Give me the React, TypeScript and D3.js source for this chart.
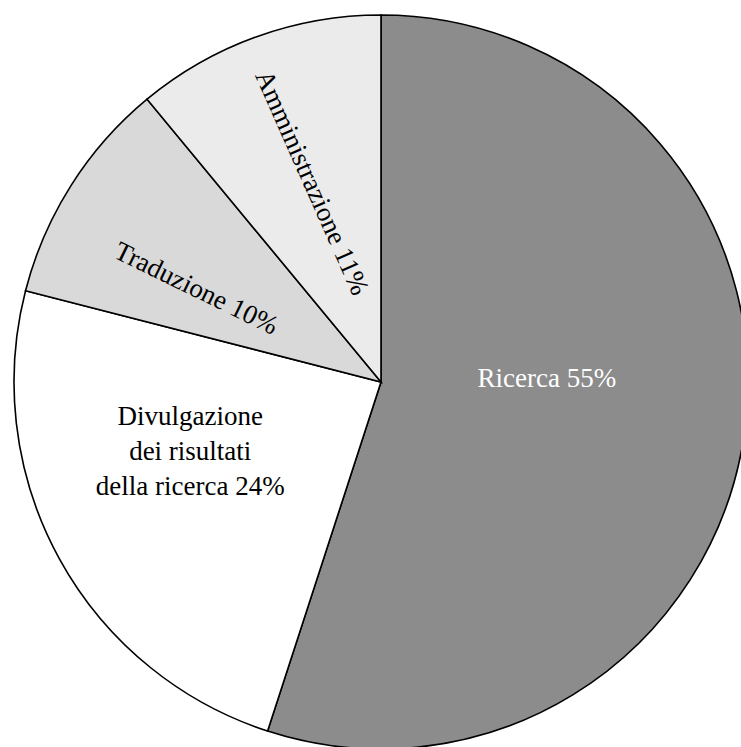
import React from "react";
import * as d3 from "d3";

const categories = ["Ricerca", "Divulgazione dei risultati della ricerca", "Traduzione", "Amministrazione"];
const values = [55, 24, 10, 11];
const labelLines = [
  ["Ricerca 55%"],
  ["Divulgazione", "dei risultati", "della ricerca 24%"],
  ["Traduzione 10%"],
  ["Amministrazione 11%"],
];
const colors = ["#8c8c8c", "#ffffff", "#d9d9d9", "#ebebeb"];
const textColors = ["#ffffff", "#000000", "#000000", "#000000"];

// label layout: polar angle (deg clockwise from top), radius, rotation
const labelLayout = [
  { angle: 88.6, radius: 166, rotate: 0 },
  { angle: 250, radius: 203, rotate: 0 },
  { angle: 297, radius: 207, rotate: 26 },
  { angle: 341, radius: 211, rotate: 66 },
];

export default function App() {
  const width = 741;
  const height = 747;
  const cx = 381;
  const cy = 382;
  const r = 367;
  const pie = d3.pie<number>().sort(null).value((d) => d)(values);
  const arc = d3.arc<d3.PieArcDatum<number>>().innerRadius(0).outerRadius(r);
  const fontSize = 27;
  const lineH = 35;
  return (
    <svg
      width={width}
      height={height}
      style={{ position: "absolute", left: 0, top: 0 }}
    >
      <rect width={width} height={height} fill="#fff" />
      <g transform={`translate(${cx},${cy})`}>
        {pie.map((p, i) => (
          <path key={categories[i]} d={arc(p) || ""} fill={colors[i]} stroke="#000" strokeWidth={1.6} />
        ))}
        {labelLayout.map((l, i) => {
          const a = (l.angle * Math.PI) / 180;
          const x = Math.sin(a) * l.radius;
          const y = -Math.cos(a) * l.radius;
          const lines = labelLines[i];
          return (
            <text
              key={i}
              transform={`translate(${x},${y}) rotate(${l.rotate})`}
              textAnchor="middle"
              fontFamily="'Liberation Serif', 'DejaVu Serif', serif"
              fontSize={fontSize}
              fill={textColors[i]}
            >
              {lines.map((t, j) => (
                <tspan key={j} x={0} y={(j - (lines.length - 1) / 2) * lineH} dominantBaseline="central">
                  {t}
                </tspan>
              ))}
            </text>
          );
        })}
      </g>
    </svg>
  );
}
